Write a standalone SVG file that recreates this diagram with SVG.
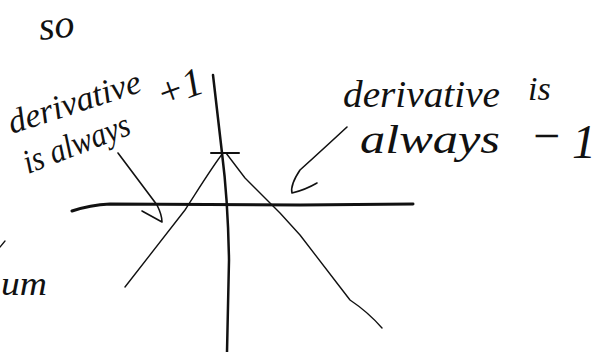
<svg xmlns="http://www.w3.org/2000/svg" width="602" height="352" viewBox="0 0 602 352">
<style>
.ink{fill:none;stroke:#111;stroke-linecap:round;stroke-linejoin:round}
.hw{font-family:"Liberation Serif","DejaVu Serif",serif;font-style:italic;fill:#111}
</style>
<rect width="602" height="352" fill="#fff"/>
<g id="axes">
<path class="ink" stroke-width="3" d="M72,211 Q90,205 110,204 L300,205 L413,204"/>
<path class="ink" stroke-width="2.5" d="M213,75 L222,153 Q228,200 229,260 L227,352"/>
<path class="ink" stroke-width="2" d="M211,153 L239,153"/>
</g>
<g id="graph">
<path class="ink" stroke-width="1.4" d="M223,153 C212,167 198,190 185,210 L125,287"/>
<path class="ink" stroke-width="1.4" d="M226,153 L245,178 L280,213 L300,235 L340,287 L350,300 Q368,312 382,328"/>
</g>
<g id="connectors">
<path class="ink" stroke-width="1.6" d="M118,153 L157,205 Q162,215 162,222 M142,211 L162,222"/>
<path class="ink" stroke-width="1.6" d="M347,127 Q320,152 300,170 Q290,185 292,193 Q305,190 317,183"/>
</g>
<g id="labels">
<text class="hw" x="40" y="40" font-size="40" transform="rotate(-6 40 40)">so</text>
<text class="hw" x="12" y="134" font-size="34" textLength="138" lengthAdjust="spacingAndGlyphs" transform="rotate(-18 12 134)">derivative</text>
<text class="hw" x="28" y="174" font-size="34" textLength="112" lengthAdjust="spacingAndGlyphs" transform="rotate(-21 28 174)">is always</text>
<text class="hw" x="162" y="108" font-size="40" transform="rotate(-20 162 108)">+1</text>
<text class="hw" x="343" y="107" font-size="38" textLength="157" lengthAdjust="spacingAndGlyphs">derivative</text>
<text class="hw" x="528" y="100" font-size="34">is</text>
<text class="hw" x="360" y="153" font-size="40" textLength="140" lengthAdjust="spacingAndGlyphs">always</text>
<text class="hw" x="530" y="152" font-size="48">−<tspan x="572" y="158">1</tspan></text>
<text class="hw" x="1" y="295" font-size="34" textLength="46" lengthAdjust="spacingAndGlyphs">um</text>
<path class="ink" stroke-width="1.3" d="M0,247 L5,241"/>
</g>
</svg>
